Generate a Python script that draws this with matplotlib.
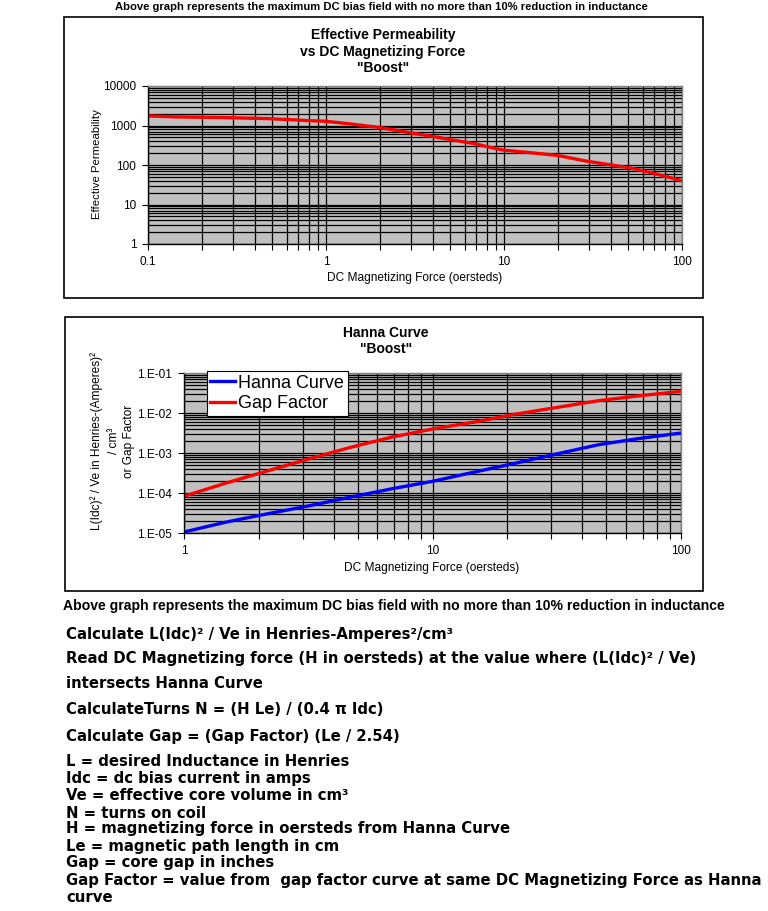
import matplotlib
matplotlib.use("Agg")
import matplotlib.pyplot as plt
from matplotlib.patches import Rectangle
from matplotlib.ticker import LogLocator, NullFormatter, FixedLocator, FixedFormatter

W, H = 768, 911

# ---- data ----
perm_h = [0.1, 0.143, 0.273, 0.469, 0.80, 1.0, 1.37, 1.89, 2.35, 3.1, 4.0, 5.26, 6.9, 8.6,
          10, 13.8, 20.1, 29.1, 40.9, 53.5, 70, 100]
perm_mu = [1746, 1650, 1585, 1496, 1330, 1280, 1096, 920, 789, 634, 525, 424, 343, 272,
           237, 207, 174, 125, 99, 81, 61, 40]

hanna_h = [1.0, 1.48, 2.18, 3.2, 4.69, 6.89, 10, 14.8, 21.7, 31.9, 46.8, 68.8, 100]
hanna_val = [1.06e-5, 1.88e-5, 3.04e-5, 4.8e-5, 7.9e-5, 1.28e-4, 1.96e-4, 3.35e-4,
             5.6e-4, 9.6e-4, 1.62e-3, 2.33e-3, 3.16e-3]
gap_val = [8.3e-5, 1.78e-4, 3.6e-4, 7.2e-4, 1.39e-3, 2.51e-3, 3.98e-3, 5.96e-3,
           9.4e-3, 1.39e-2, 2.04e-2, 2.71e-2, 3.48e-2]

perm_yticks = [1, 10, 100, 1000, 10000]
perm_ylabels = ["1", "10", "100", "1000", "10000"]
perm_xticks = [0.1, 1, 10, 100]
perm_xlabels = ["0.1", "1", "10", "100"]
hanna_yticks = [1e-5, 1e-4, 1e-3, 1e-2, 1e-1]
hanna_ylabels = ["1.E-05", "1.E-04", "1.E-03", "1.E-02", "1.E-01"]
hanna_xticks = [1, 10, 100]
hanna_xlabels = ["1", "10", "100"]

header = "Above graph represents the maximum DC bias field with no more than 10% reduction in inductance"
steps = [
    "Calculate L(Idc)\u00b2 / Ve in Henries-Amperes\u00b2/cm\u00b3",
    "Read DC Magnetizing force (H in oersteds) at the value where (L(Idc)\u00b2 / Ve)",
    "intersects Hanna Curve",
    "CalculateTurns N = (H Le) / (0.4 \u03c0 Idc)",
    "Calculate Gap = (Gap Factor) (Le / 2.54)",
]
defs = [
    "L = desired Inductance in Henries",
    "Idc = dc bias current in amps",
    "Ve = effective core volume in cm\u00b3",
    "N = turns on coil",
    "H = magnetizing force in oersteds from Hanna Curve",
    "Le = magnetic path length in cm",
    "Gap = core gap in inches",
    "Gap Factor = value from  gap factor curve at same DC Magnetizing Force as Hanna",
    "curve",
]

FONT = "Liberation Sans"
plt.rcParams["font.family"] = [FONT, "DejaVu Sans"]

fig = plt.figure(figsize=(W / 100, H / 100), dpi=100)
fig.patch.set_facecolor("white")


def fx(x):
    return x / W


def fy(y):
    return 1 - y / H


def ft(x, y, s, **kw):
    fig.text(fx(x), fy(y), s, **kw)


def box(x0, y0, x1, y1):
    fig.patches.append(Rectangle((fx(x0), fy(y1)), fx(x1) - fx(x0), fy(y0) - fy(y1),
                                 transform=fig.transFigure, fill=False, edgecolor="black",
                                 linewidth=1.2))


def axes_px(x0, y0, x1, y1):
    return fig.add_axes([fx(x0), fy(y1), fx(x1) - fx(x0), fy(y0) - fy(y1)])


def style_axes(ax, xlim, ylim, xt, xl, yt, yl):
    ax.set_xscale("log")
    ax.set_yscale("log")
    ax.set_xlim(*xlim)
    ax.set_ylim(*ylim)
    ax.set_facecolor("#C0C0C0")
    ax.xaxis.set_major_locator(FixedLocator(xt))
    ax.xaxis.set_major_formatter(FixedFormatter(xl))
    ax.yaxis.set_major_locator(FixedLocator(yt))
    ax.yaxis.set_major_formatter(FixedFormatter(yl))
    ax.xaxis.set_minor_locator(LogLocator(base=10, subs=range(2, 10), numticks=20))
    ax.yaxis.set_minor_locator(LogLocator(base=10, subs=range(2, 10), numticks=20))
    ax.xaxis.set_minor_formatter(NullFormatter())
    ax.yaxis.set_minor_formatter(NullFormatter())
    ax.grid(True, which="both", color="black", linewidth=0.9)
    ax.set_axisbelow(True)
    ax.tick_params(which="both", direction="out", length=4.5, width=0.8, colors="black",
                   labelsize=8.5, pad=4)
    ax.tick_params(axis="y", which="minor", length=0)
    for s in ("top", "right"):
        ax.spines[s].set_color("#808080")
        ax.spines[s].set_linewidth(1.0)
    for s in ("left", "bottom"):
        ax.spines[s].set_color("black")
        ax.spines[s].set_linewidth(1.0)


# ---- top header ----
ft(381, 7, header, ha="center", va="center", fontsize=8.1, fontweight="bold")

# ---- chart 1 ----
box(64, 17, 703, 298)
ax1 = axes_px(148, 86, 682, 244)
style_axes(ax1, (0.1, 100), (1, 10000), perm_xticks, perm_xlabels, perm_yticks, perm_ylabels)
ax1.plot(perm_h, perm_mu, color="#FF0000", linewidth=2.4, solid_capstyle="butt")
ft(383, 35, "Effective Permeability", ha="center", va="center", fontsize=10, fontweight="bold")
ft(383, 52, "vs DC Magnetizing Force", ha="center", va="center", fontsize=10, fontweight="bold")
ft(383, 68, "\"Boost\"", ha="center", va="center", fontsize=10, fontweight="bold")
ft(415, 278, "DC Magnetizing Force (oersteds)", ha="center", va="center", fontsize=8.6)
ft(97, 164, "Effective Permeability", ha="center", va="center", fontsize=8.2, rotation=90)

# ---- chart 2 ----
box(65, 317, 703, 591)
ax2 = axes_px(184, 373, 681, 533)
style_axes(ax2, (1, 100), (1e-5, 1e-1), hanna_xticks, hanna_xlabels, hanna_yticks, hanna_ylabels)
ax2.plot(hanna_h, hanna_val, color="#0000FF", linewidth=2.4, label="Hanna Curve")
ax2.plot(hanna_h, gap_val, color="#FF0000", linewidth=2.4, label="Gap Factor")
leg = ax2.legend(loc="upper left", bbox_to_anchor=(0.046, 1.013), fontsize=13, frameon=True,
                 fancybox=False, edgecolor="black", framealpha=1, handlelength=1.35,
                 handletextpad=0.2, borderpad=0.2, labelspacing=0.2, borderaxespad=0)
leg.get_frame().set_linewidth(0.8)
ft(386, 333, "Hanna Curve", ha="center", va="center", fontsize=10, fontweight="bold")
ft(386, 349, "\"Boost\"", ha="center", va="center", fontsize=10, fontweight="bold")
ft(432, 568, "DC Magnetizing Force (oersteds)", ha="center", va="center", fontsize=8.6)
ft(97, 441, "L(Idc)\u00b2 / Ve in Henries-(Amperes)\u00b2", ha="center", va="center",
   fontsize=8.6, rotation=90)
ft(114, 441, "/ cm\u00b3", ha="center", va="center", fontsize=8.6, rotation=90)
ft(129, 441, "or Gap Factor", ha="center", va="center", fontsize=8.6, rotation=90)

# ---- bottom text ----
ft(394, 606, header, ha="center", va="center", fontsize=10.1, fontweight="bold")
step_y = [634, 659, 684, 710, 737]
for yy, s in zip(step_y, steps):
    ft(66, yy, s, ha="left", va="center", fontsize=10.7, fontweight="bold",
       family=["DejaVu Sans"])
def_y = [762, 779, 796, 813, 829, 846, 863, 880, 897]
for yy, s in zip(def_y, defs):
    ft(66, yy, s, ha="left", va="center", fontsize=10.7, fontweight="bold",
       family=["DejaVu Sans"])

fig.savefig("out.png", dpi=100, facecolor="white")
